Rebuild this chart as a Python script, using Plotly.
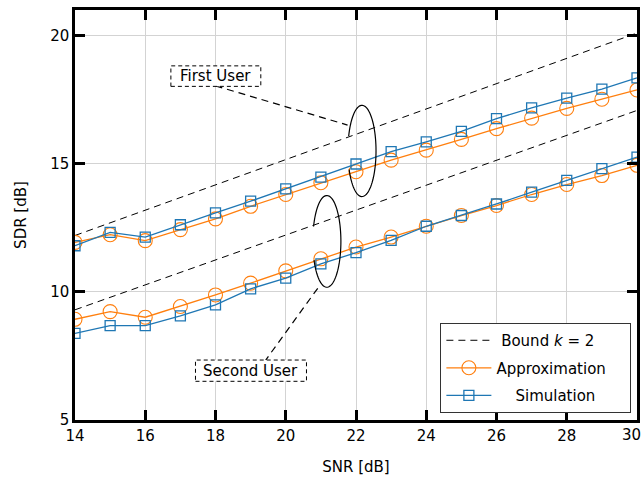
import numpy as np
import plotly.graph_objects as go

snr = list(range(14, 31))
x_ticks = list(range(14, 31, 2))
x_ticklabels = [str(v) for v in x_ticks]

approx_first = [11.93, 12.23, 12.00, 12.43, 12.85, 13.34, 13.80, 14.26, 14.69,
                15.14, 15.53, 15.95, 16.37, 16.78, 17.16, 17.52, 17.88]
sim_first = [11.80, 12.32, 12.14, 12.62, 13.08, 13.54, 14.02, 14.48, 14.99,
             15.47, 15.85, 16.26, 16.76, 17.18, 17.56, 17.91, 18.35]
approx_second = [8.93, 9.23, 9.01, 9.43, 9.88, 10.34, 10.82, 11.29, 11.75,
                 12.14, 12.56, 12.98, 13.37, 13.80, 14.19, 14.54, 14.94]
sim_second = [8.38, 8.68, 8.68, 9.06, 9.49, 10.12, 10.54, 11.09, 11.53,
              12.01, 12.56, 12.98, 13.43, 13.89, 14.35, 14.81, 15.26]
bound_snr = [14, 30]
bound_first = [12.20, 20.10]
bound_second = [9.30, 17.08]

BLUE = "#1f77b4"
ORANGE = "#ff7f0e"
FONT = "DejaVu Sans"
NB = "\u00a0"

fig = go.Figure()

fig.add_trace(go.Scatter(x=bound_snr, y=bound_first, mode="lines",
                         line=dict(color="black", width=1, dash="7px,5px"),
                         name=NB + "Bound <i>k</i> = 2" + NB * 4, legendgroup="b"))
fig.add_trace(go.Scatter(x=bound_snr, y=bound_second, mode="lines",
                         line=dict(color="black", width=1, dash="7px,5px"),
                         name="Bound", legendgroup="b", showlegend=False))

fig.add_trace(go.Scatter(x=snr, y=approx_first, mode="lines+markers",
                         line=dict(color=ORANGE, width=1.3),
                         marker=dict(symbol="circle-open", size=14, color=ORANGE,
                                     line=dict(width=1.1)),
                         name="Approximation" + NB * 4, legendgroup="a"))
fig.add_trace(go.Scatter(x=snr, y=approx_second, mode="lines+markers",
                         line=dict(color=ORANGE, width=1.3),
                         marker=dict(symbol="circle-open", size=14, color=ORANGE,
                                     line=dict(width=1.1)),
                         name="Approximation", legendgroup="a", showlegend=False))
fig.add_trace(go.Scatter(x=snr, y=sim_first, mode="lines+markers",
                         line=dict(color=BLUE, width=1.3),
                         marker=dict(symbol="square-open", size=10, color=BLUE,
                                     line=dict(width=1.3)),
                         name=NB * 4 + "Simulation", legendgroup="s"))
fig.add_trace(go.Scatter(x=snr, y=sim_second, mode="lines+markers",
                         line=dict(color=BLUE, width=1.3),
                         marker=dict(symbol="square-open", size=10, color=BLUE,
                                     line=dict(width=1.3)),
                         name="Simulation", legendgroup="s", showlegend=False))


def ellipse_path(cx, cy, rx, ry, a0, a1, n=80):
    t = np.radians(np.linspace(a0, a1, n))
    xs = cx + rx * np.cos(t)
    ys = cy + ry * np.sin(t)
    return "M " + " L ".join(f"{x:.4f},{y:.4f}" for x, y in zip(xs, ys))


shapes = []
shapes.append(dict(type="path", xref="x", yref="y",
                   path=ellipse_path(22.17, 15.50, 0.40, 1.78, -156, 161),
                   line=dict(color="black", width=1.2)))
shapes.append(dict(type="path", xref="x", yref="y",
                   path=ellipse_path(21.17, 11.97, 0.40, 1.79, -156, 161),
                   line=dict(color="black", width=1.2)))
shapes.append(dict(type="line", xref="x", yref="y", x0=18.0, y0=18.04, x1=21.76, y1=16.51,
                   line=dict(color="black", width=1.2, dash="7px,5px")))
shapes.append(dict(type="line", xref="x", yref="y", x0=20.91, y0=10.14, x1=19.43, y1=7.34,
                   line=dict(color="black", width=1.2, dash="7px,5px")))
shapes.append(dict(type="rect", xref="x", yref="y", x0=16.73, x1=19.29, y0=18.02, y1=18.82,
                   fillcolor="white", line=dict(color="black", width=1, dash="4px,3px")))
shapes.append(dict(type="rect", xref="x", yref="y", x0=17.43, x1=20.59, y0=6.51, y1=7.34,
                   fillcolor="white", line=dict(color="black", width=1, dash="4px,3px")))

annotations = [
    dict(x=18.01, y=18.42, xref="x", yref="y", text="First User", showarrow=False,
         font=dict(family=FONT, size=15, color="black")),
    dict(x=19.01, y=6.93, xref="x", yref="y", text="Second User", showarrow=False,
         font=dict(family=FONT, size=15, color="black")),
    # last x tick label, nudged left so it stays inside the page
    dict(x=x_ticks[-1], y=0, xref="x", yref="paper", text=x_ticklabels[-1],
         showarrow=False, xanchor="right", yanchor="top", xshift=6, yshift=-4,
         font=dict(family=FONT, size=15, color="black")),
]

axis_common = dict(showline=True, linecolor="black", linewidth=2.5, mirror="ticks",
                   ticks="inside", ticklen=10, tickwidth=2.5, tickcolor="black",
                   showgrid=True, gridcolor="#d3d3d3", gridwidth=1, zeroline=False,
                   automargin=False,
                   tickfont=dict(family=FONT, size=15, color="black"))

fig.update_layout(
    width=644, height=478,
    margin=dict(l=75, r=7, t=10, b=58),
    plot_bgcolor="white", paper_bgcolor="white",
    font=dict(family=FONT, size=15, color="black"),
    shapes=shapes, annotations=annotations,
    xaxis=dict(range=[14, 30], tickvals=x_ticks,
               ticktext=x_ticklabels[:-1] + [""],
               title=dict(text="SNR [dB]", font=dict(family=FONT, size=15), standoff=18),
               **axis_common),
    yaxis=dict(range=[5, 21], tickvals=[5, 10, 15, 20],
               title=dict(text="SDR [dB]", font=dict(family=FONT, size=15), standoff=20),
               **axis_common),
    legend=dict(x=0.99, y=0.017, xanchor="right", yanchor="bottom",
                bgcolor="white", bordercolor="#333333", borderwidth=1,
                font=dict(family=FONT, size=15, color="black"),
                itemwidth=45, tracegroupgap=5),
    showlegend=True,
)

fig.write_html("out.html")
